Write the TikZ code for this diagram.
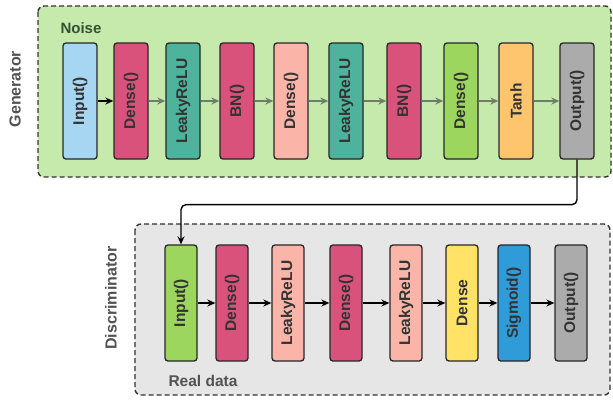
\documentclass[tikz,border=0pt]{standalone}
\usepackage{fontspec}
\setmainfont{Liberation Sans}
\usepackage{graphicx}
\usepackage{xcolor}
\usetikzlibrary{shapes,arrows,arrows.meta}

\definecolor{genbg}{HTML}{C6E9AC}
\definecolor{discbg}{HTML}{E6E6E6}
\definecolor{cblue}{HTML}{A6D6F2}
\definecolor{cpink}{HTML}{D9527C}
\definecolor{cteal}{HTML}{4DB39C}
\definecolor{csalmon}{HTML}{FBB5A8}
\definecolor{cgreen}{HTML}{9DD65E}
\definecolor{corange}{HTML}{FFC56E}
\definecolor{cgray}{HTML}{ABABAB}
\definecolor{cyellow}{HTML}{FFE266}
\definecolor{csky}{HTML}{2F9BD9}
\definecolor{txtdark}{HTML}{333333}
\definecolor{arrgray}{HTML}{6E7E6A}

\newcommand{\vtext}[1]{\rotatebox{90}{#1}}

\begin{document}
\begin{tikzpicture}[x=1pt, y=-1pt, node distance=54pt, auto]

% Stilusok
\tikzstyle{group} = [draw=txtdark, line width=1.4pt, dash pattern=on 5pt off 3pt, rounded corners=6pt]
\tikzstyle{block} = [rectangle, rounded corners=3pt, minimum width=34pt, minimum height=116pt, inner sep=0pt, text centered, draw=black!85, line width=1.3pt, text=txtdark, font=\fontsize{15.5}{15.5}\selectfont\bfseries]
\tikzstyle{title} = [text=txtdark!85, font=\fontsize{16}{16}\selectfont\bfseries]
\tikzstyle{arrow} = [line width=1.4pt,->,>={Stealth[length=8pt,width=7pt]}]
\tikzstyle{garrow} = [arrow, draw=arrgray]

\useasboundingbox (0,0) rectangle (613,400);

% Hatter dobozok
\draw [group, fill=genbg] (38,6) rectangle (611,177);
\draw [group, fill=discbg] (135,224) rectangle (610,395);

% Feliratok
\node (gtitle) [title] at (15,89) {\vtext{Generator}};
\node (dtitle) [title] at (111,298) {\vtext{Discriminator}};
\node (noise) [title, text=green!15!black!80, anchor=west, font=\fontsize{15}{15}\selectfont\bfseries] at (57,28) {Noise};
\node (real) [title, anchor=west, font=\fontsize{15.5}{15.5}\selectfont\bfseries] at (165,381) {Real data};

% Generator elemek
\node (ginput) [block, fill=cblue] at (80,101) {\vtext{Input()}};
\node (gdense1) [block, fill=cpink, right of=ginput, xshift=-3pt] {\vtext{Dense()}};
\node (glrelu1) [block, fill=cteal, right of=gdense1, xshift=-2pt] {\vtext{LeakyReLU}};
\node (gbn1) [block, fill=cpink, right of=glrelu1] {\vtext{BN()}};
\node (gdense2) [block, fill=csalmon, right of=gbn1] {\vtext{Dense()}};
\node (glrelu2) [block, fill=cteal, right of=gdense2, xshift=1pt] {\vtext{LeakyReLU}};
\node (gbn2) [block, fill=cpink, right of=glrelu2, xshift=4pt] {\vtext{BN()}};
\node (gdense3) [block, fill=cgreen, right of=gbn2, xshift=3pt] {\vtext{Dense()}};
\node (gtanh) [block, fill=corange, right of=gdense3, xshift=1pt] {\vtext{Tanh}};
\node (goutput) [block, fill=cgray, right of=gtanh, xshift=7pt] {\vtext{Output()}};

% Discriminator elemek
\node (dinput) [block, fill=cgreen, minimum width=32pt] at (181,303) {\vtext{Input()}};
\node (ddense1) [block, fill=cpink, minimum width=32pt, right of=dinput, xshift=-3pt] {\vtext{Dense()}};
\node (dlrelu1) [block, fill=csalmon, minimum width=32pt, right of=ddense1, xshift=2pt] {\vtext{LeakyReLU}};
\node (ddense2) [block, fill=cpink, minimum width=32pt, right of=dlrelu1, xshift=4pt] {\vtext{Dense()}};
\node (dlrelu2) [block, fill=csalmon, minimum width=32pt, right of=ddense2, xshift=6pt] {\vtext{LeakyReLU}};
\node (ddense3) [block, fill=cyellow, minimum width=32pt, right of=dlrelu2, xshift=2pt] {\vtext{Dense}};
\node (dsigmoid) [block, fill=csky, minimum width=32pt, right of=ddense3, xshift=-2pt] {\vtext{Sigmoid()}};
\node (doutput) [block, fill=cgray, minimum width=32pt, right of=dsigmoid, xshift=3pt] {\vtext{Output()}};

% Generator nyilak
\draw [arrow] (ginput) -- (gdense1);
\draw [garrow] (gdense1) -- (glrelu1);
\draw [garrow] (glrelu1) -- (gbn1);
\draw [garrow] (gbn1) -- (gdense2);
\draw [garrow] (gdense2) -- (glrelu2);
\draw [garrow] (glrelu2) -- (gbn2);
\draw [garrow] (gbn2) -- (gdense3);
\draw [garrow] (gdense3) -- (gtanh);
\draw [garrow] (gtanh) -- (goutput);

% Kapcsolat
\draw [arrow, rounded corners=5pt] (goutput.south) -- ++(0,45) -| (dinput.north);

% Discriminator nyilak
\draw [arrow] (dinput) -- (ddense1);
\draw [arrow] (ddense1) -- (dlrelu1);
\draw [arrow] (dlrelu1) -- (ddense2);
\draw [arrow] (ddense2) -- (dlrelu2);
\draw [arrow] (dlrelu2) -- (ddense3);
\draw [arrow] (ddense3) -- (dsigmoid);
\draw [arrow] (dsigmoid) -- (doutput);
\end{tikzpicture}
\end{document}
